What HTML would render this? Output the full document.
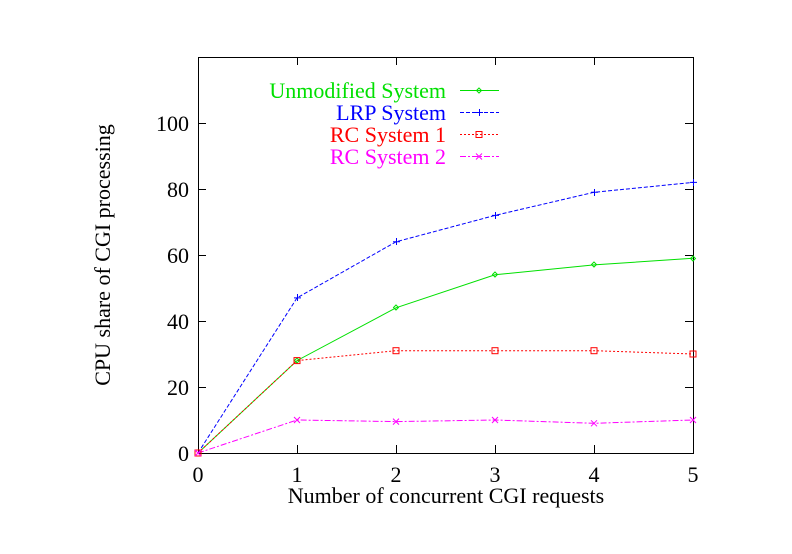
<!DOCTYPE html>
<html><head><style>body{margin:0;background:#fff}svg{display:block}</style></head><body>
<svg width="792" height="554" xmlns="http://www.w3.org/2000/svg" font-family="Liberation Serif, serif" font-size="22">
<rect width="792" height="554" fill="#fff"/>
<rect x="198.5" y="57.5" width="495" height="396" fill="none" stroke="#000" stroke-width="1"/>
<g stroke="#000">
<line x1="297.5" y1="453" x2="297.5" y2="445"/><line x1="396.5" y1="453" x2="396.5" y2="445"/><line x1="495.5" y1="453" x2="495.5" y2="445"/><line x1="594.5" y1="453" x2="594.5" y2="445"/>
<line x1="297.5" y1="57" x2="297.5" y2="65"/><line x1="396.5" y1="57" x2="396.5" y2="65"/><line x1="495.5" y1="57" x2="495.5" y2="65"/><line x1="594.5" y1="57" x2="594.5" y2="65"/>
<line x1="198" y1="387.5" x2="206" y2="387.5"/><line x1="198" y1="321.5" x2="206" y2="321.5"/><line x1="198" y1="255.5" x2="206" y2="255.5"/><line x1="198" y1="189.5" x2="206" y2="189.5"/><line x1="198" y1="123.5" x2="206" y2="123.5"/>
<line x1="693" y1="387.5" x2="685" y2="387.5"/><line x1="693" y1="321.5" x2="685" y2="321.5"/><line x1="693" y1="255.5" x2="685" y2="255.5"/><line x1="693" y1="189.5" x2="685" y2="189.5"/><line x1="693" y1="123.5" x2="685" y2="123.5"/>
</g>
<g text-anchor="end">
<text x="189" y="461">0</text><text x="189" y="395">20</text><text x="189" y="329">40</text><text x="189" y="263">60</text><text x="189" y="197">80</text><text x="189" y="131">100</text>
</g>
<g text-anchor="middle">
<text x="198" y="482">0</text><text x="297" y="482">1</text><text x="396" y="482">2</text><text x="495" y="482">3</text><text x="594" y="482">4</text><text x="693" y="482">5</text>
<text x="446" y="503">Number of concurrent CGI requests</text>
<text transform="translate(110,255) rotate(-90)">CPU share of CGI processing</text>
</g>
<g text-anchor="end">
<text x="446" y="98" fill="#00e000">Unmodified System</text>
<text x="446" y="120" fill="#0000ff">LRP System</text>
<text x="446" y="142" fill="#ff0000">RC System 1</text>
<text x="446" y="164" fill="#ff00ff">RC System 2</text>
</g>
<g fill="none">
<line x1="460" y1="90.5" x2="499" y2="90.5" stroke="#00e000"/>
<line x1="460" y1="112.5" x2="499" y2="112.5" stroke="#0000ff" stroke-dasharray="4,2"/>
<line x1="460" y1="134.5" x2="499" y2="134.5" stroke="#ff0000" stroke-dasharray="2,2"/>
<line x1="460" y1="156.5" x2="499" y2="156.5" stroke="#ff00ff" stroke-dasharray="6,2,2,2"/>
<polyline stroke="#0000ff" stroke-dasharray="4,2" points="198,453 297,297.9 396,241.8 495,215.4 594,192.3 693,182.4"/>
<polyline stroke="#00e000" points="198,453 297,360.6 396,307.8 495,274.8 594,264.9 693,258.3"/>
<polyline stroke="#ff0000" stroke-dasharray="2,2" points="198,453 297,360.6 396,350.7 495,350.7 594,350.7 693,354"/>
<polyline stroke="#ff00ff" stroke-dasharray="6,2,2,2" points="198,453 297,420 396,421.6 495,420 594,423.3 693,420"/>
</g>
<g fill="none" stroke-width="1">
<g stroke="#00e000"><path d="M479,88 l2.5,2.5 -2.5,2.5 -2.5,-2.5z M297,358 l2.5,2.5 -2.5,2.5 -2.5,-2.5z M396,305 l2.5,2.5 -2.5,2.5 -2.5,-2.5z M495,272 l2.5,2.5 -2.5,2.5 -2.5,-2.5z M594,262 l2.5,2.5 -2.5,2.5 -2.5,-2.5z M693,256 l2.5,2.5 -2.5,2.5 -2.5,-2.5z"/></g>
<g stroke="#0000ff"><path d="M476,112.5h7M479.5,109v7 M294,297.9h7M297.5,294v7 M393,241.8h7M396.5,238v7 M492,215.4h7M495.5,212v7 M591,192.3h7M594.5,189v7 M690,182.4h7M693.5,179v7"/></g>
<g stroke="#ff0000"><rect x="476" y="131.5" width="6" height="6"/><rect x="195" y="450" width="6" height="6"/><rect x="294" y="357.6" width="6" height="6"/><rect x="393" y="347.7" width="6" height="6"/><rect x="492" y="347.7" width="6" height="6"/><rect x="591" y="347.7" width="6" height="6"/><rect x="690" y="351" width="6" height="6"/></g>
<g stroke="#ff00ff"><path d="M476,153.5l6,6M482,153.5l-6,6 M195,450l6,6M201,450l-6,6 M294,417l6,6M300,417l-6,6 M393,418.6l6,6M399,418.6l-6,6 M492,417l6,6M498,417l-6,6 M591,420.3l6,6M597,420.3l-6,6 M690,417l6,6M696,417l-6,6"/></g>
</g>
</svg>
</body></html>
